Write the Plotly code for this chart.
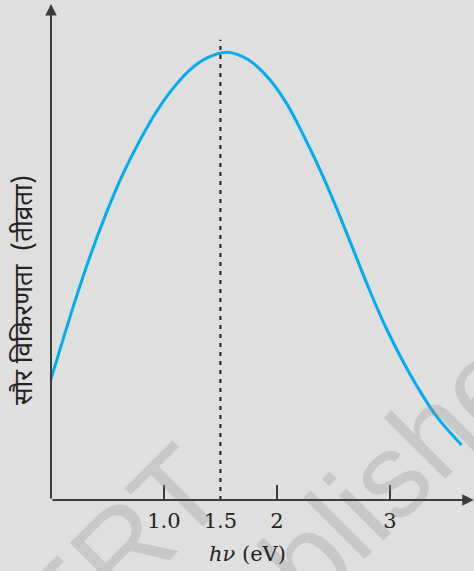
import plotly.graph_objects as go

# ---- data ----
photon_energy_ev = [0.00, 0.197, 0.345, 0.493, 0.640, 0.788, 0.935, 1.082, 1.230, 1.378,
                    1.555, 1.700, 1.790, 1.938, 2.086, 2.233, 2.381, 2.528, 2.675,
                    2.823, 2.971, 3.118, 3.265, 3.413, 3.635]
solar_intensity = [27.0, 43.2, 54.4, 64.3, 73.0, 80.4, 86.8, 92.0, 96.1, 98.7,
                   100.0, 99.0, 97.6, 93.9, 88.6, 81.6, 73.8, 65.2, 56.0,
                   46.7, 38.2, 30.9, 24.4, 18.7, 12.3]
peak_energy = 1.5
peak_line_top = 102.8
tick_values = [1.0, 1.5, 2.0, 3.0]
tick_labels = ["1.0", "1.5", "2", "3"]
tick_marks = [1.0, 2.0, 3.0]
x_title = "<i>hν</i> (eV)"
y_title = "सौर विकिरणता  (तीव्रता)"
watermark_lines = ["NCERT", "republished"]

X_MAX = 3.745
Y_MAX = 111.7
BG = "#dfdfdf"
AXIS_COLOR = "#3c3c3c"
SERIF = "DejaVu Serif, Liberation Serif, serif"
DEVA = "Noto Sans Devanagari, Lohit Devanagari, Noto Sans, sans-serif"
WM_FONT = dict(family="Liberation Sans, Arial, sans-serif", size=120,
               color="rgba(150,150,150,0.30)")

fig = go.Figure()
fig.add_trace(go.Scatter(
    x=photon_energy_ev, y=solar_intensity, mode="lines",
    line=dict(color="#00aeef", width=3, shape="spline", smoothing=1.0),
    hoverinfo="skip", showlegend=False,
))

# dotted vertical line at the peak
fig.add_shape(type="line", xref="x", yref="y",
              x0=peak_energy, x1=peak_energy, y0=0, y1=peak_line_top,
              line=dict(color="#1a1a1a", width=2, dash="4px,5px"))

annotations = []
# watermark (faint, diagonal)
annotations.append(dict(xref="paper", yref="paper", x=0.0165, y=-0.224,
                        xanchor="center", yanchor="middle",
                        text=watermark_lines[0], showarrow=False, textangle=-45,
                        font=WM_FONT))
annotations.append(dict(xref="paper", yref="paper", x=0.663, y=-0.065,
                        xanchor="center", yanchor="middle",
                        text=watermark_lines[1], showarrow=False, textangle=-45,
                        font=WM_FONT))
# axes with arrows
annotations.append(dict(xref="x", yref="y", axref="x", ayref="y",
                        x=0, y=110.8, ax=0, ay=0, text="", showarrow=True,
                        arrowhead=2, arrowsize=1.15, arrowwidth=2, arrowcolor=AXIS_COLOR,
                        standoff=0, startstandoff=0))
annotations.append(dict(xref="x", yref="y", axref="x", ayref="y",
                        x=X_MAX - 0.002, y=0, ax=0, ay=0, text="", showarrow=True,
                        arrowhead=2, arrowsize=1.15, arrowwidth=2, arrowcolor=AXIS_COLOR,
                        standoff=0, startstandoff=0))
# axis titles
annotations.append(dict(xref="paper", yref="paper", x=0.4634, y=-0.108,
                        text=x_title, showarrow=False, xanchor="center", yanchor="middle",
                        font=dict(family=SERIF, size=21, color="#222222")))
annotations.append(dict(xref="paper", yref="paper", x=-0.059, y=0.42,
                        text=y_title, showarrow=False, textangle=-90,
                        xanchor="center", yanchor="middle",
                        font=dict(family=DEVA, size=26, color="#222222")))

fig.update_layout(
    width=474, height=571,
    margin=dict(l=51, r=0, t=0, b=71),
    paper_bgcolor=BG, plot_bgcolor=BG,
    showlegend=False,
    annotations=annotations,
    xaxis=dict(range=[0, X_MAX], showgrid=False, zeroline=False, showline=False,
               tickmode="array", tickvals=tick_values, ticktext=tick_labels,
               ticks="", ticklabelstandoff=6,
               tickfont=dict(family=SERIF, size=21, color="#222222"),
               minor=dict(tickmode="array", tickvals=tick_marks, ticks="inside",
                          ticklen=15, tickwidth=1.5, tickcolor=AXIS_COLOR, showgrid=False),
               fixedrange=True),
    yaxis=dict(range=[0, Y_MAX], showgrid=False, zeroline=False, showline=False,
               showticklabels=False, ticks="", fixedrange=True),
)

fig.write_html(
    "out.html",
    config={"displayModeBar": False, "staticPlot": True},
    post_script="document.body.style.margin='0px';document.body.style.background='#dfdfdf';",
)
